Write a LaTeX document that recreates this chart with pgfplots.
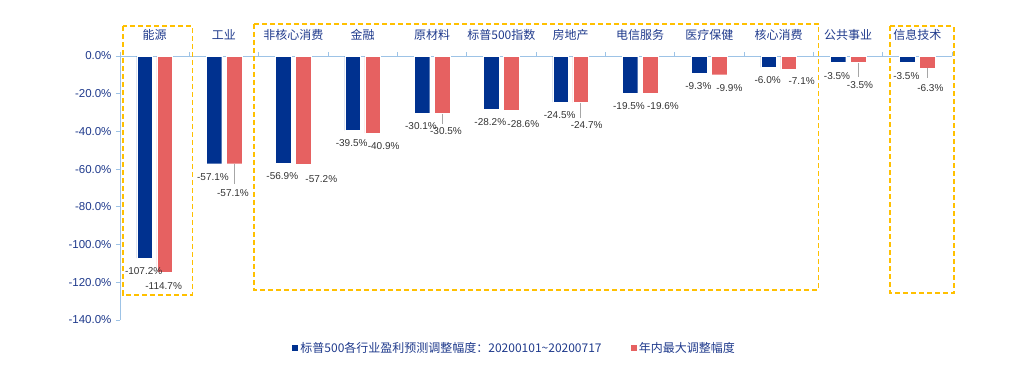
\documentclass[border=0pt]{standalone}
\usepackage{pgfplots}
\usepackage{pgfplotstable}
\usepackage{fontspec}
\pgfplotsset{compat=1.18}
\setmainfont{Liberation Sans}
\newfontfamily\cjk{Noto Sans CJK SC}
\definecolor{cblue}{HTML}{00318F}
\definecolor{cred}{HTML}{E66161}
\definecolor{ctext}{HTML}{1F3A8C}
\definecolor{caxis}{HTML}{9DC3E6}
\definecolor{cbox}{HTML}{FFC000}
\pgfplotstableread{
x blue red rdx rdy
0 -107.2 -114.7 -1 14
1 -57.1 -57.1 -1 29
2 -56.9 -57.2 18 15
3 -39.5 -40.9 11 13
4 -30.1 -30.5 4 18
5 -28.2 -28.6 12 14
6 -24.5 -24.7 6 22
7 -19.5 -19.6 13 13
8 -9.3 -9.9 10 13
9 -6.0 -7.1 13 12
10 -3.5 -3.5 2 22
11 -3.5 -6.3 3 20
}\datatable
\begin{document}
\begin{tikzpicture}
\useasboundingbox (-120pt,-56pt) rectangle (914pt,320pt);
\begin{axis}[
  at={(0pt,0pt)}, anchor=south west,
  scale only axis, width=832pt, height=264pt,
  xmin=-0.5, xmax=11.5, ymin=-140, ymax=0,
  axis x line*=top, axis y line*=left,
  axis line style={caxis, line width=0.8pt},
  clip=false,
  xtick={0,...,11},
  xticklabels={能源,工业,非核心消费,金融,原材料,标普500指数,房地产,电信服务,医疗保健,核心消费,公共事业,信息技术},
  xticklabel style={font=\cjk\fontsize{12}{14}\selectfont, text=ctext, anchor=center, yshift=17pt},
  major x tick style={draw=none},
  minor xtick={-0.5,0.5,...,11.5},
  minor x tick style={caxis, line width=0.8pt},
  minor tick length=4pt,
  ytick={-140,-120,...,0},
  yticklabel={\pgfmathprintnumber[fixed,fixed zerofill,precision=1,assume math mode=true]{\tick}\%},
  yticklabel style={font=\fontsize{11.5}{13}\selectfont, text=ctext, xshift=-1pt},
  y tick style={caxis, line width=0.8pt},
  major tick length=4pt,
  tick align=outside,
  /pgf/number format/assume math mode=true,
  legend style={at={(0.4736,-0.106)}, anchor=center, draw=none, fill=none,
    font=\cjk\fontsize{12}{14}\selectfont, text=ctext,
    legend columns=2,
    /tikz/every even column/.append style={column sep=26pt}},
  legend image code/.code={\fill[#1] (0pt,-3.5pt) rectangle (7pt,3.5pt);},
  legend cell align=left,
]
\addplot[ybar, bar width=0.224, bar shift=-0.145, fill=cblue, draw=white, line width=0.3pt,
  point meta=y,
  nodes near coords={\pgfmathprintnumber[fixed,fixed zerofill,precision=1,assume math mode=true]{\pgfplotspointmeta}\%},
  every node near coord/.append style={font=\fontsize{10}{12}\selectfont, text=black!80, anchor=center, xshift=-11pt, yshift=-13pt}]
  table[x=x, y=blue]{\datatable};
\addlegendentry{标普500各行业盈利预测调整幅度：20200101\textasciitilde 20200717}
\addplot[ybar, bar width=0.224, bar shift=0.145, fill=cred, draw=white, line width=0.3pt,
  point meta=y,
  visualization depends on={\thisrow{rdx}+10 \as \rdx},
  visualization depends on={\thisrow{rdy} \as \rdy},
  nodes near coords={\pgfmathprintnumber[fixed,fixed zerofill,precision=1,assume math mode=true]{\pgfplotspointmeta}\%},
  every node near coord/.append style={font=\fontsize{10}{12}\selectfont, text=black!80, anchor=center, xshift=\rdx pt, yshift=-\rdy pt}]
  table[x=x, y=red]{\datatable};
\addlegendentry{年内最大调整幅度}
\addplot[forget plot, mark=none, draw=none,
  error bars/.cd, y dir=minus, y explicit, error mark=none,
  error bar style={draw=gray!70, solid, line width=0.7pt}]
  coordinates {
  (1.145,-57.1) -= (0,10.6)
  (4.145,-30.5) -= (0,5.3)
  (6.145,-24.7) -= (0,8)
  (10.145,-3.5) -= (0,7.4)
  (11.145,-6.3) -= (0,5.3)
  };
\draw[cbox, line width=1.6pt, dash pattern=on 5pt off 3pt] (axis cs:-0.461,15.85) rectangle (axis cs:0.543,-126.6);
\draw[cbox, line width=1.6pt, dash pattern=on 5pt off 3pt] (axis cs:1.437,17.06) rectangle (axis cs:9.572,-124.1);
\draw[cbox, line width=1.6pt, dash pattern=on 5pt off 3pt] (axis cs:10.606,15.85) rectangle (axis cs:11.529,-125.6);
\end{axis}
\end{tikzpicture}
\end{document}
